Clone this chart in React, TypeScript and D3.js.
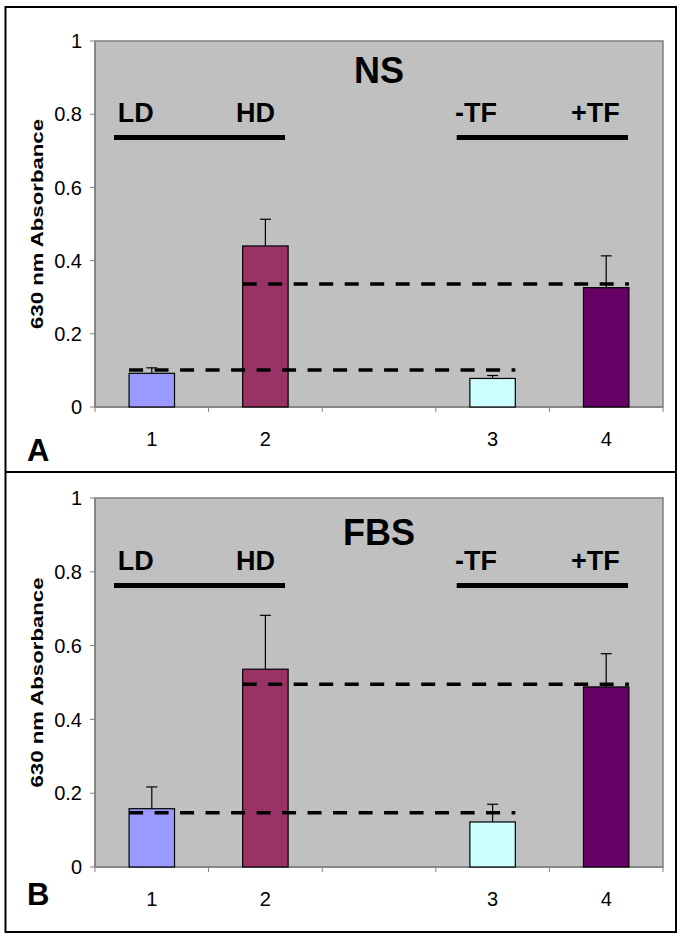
import React from "react";
import * as d3 from "d3";

const slotIds = ["c1", "c2", "gap", "c3", "c4"];
const slotLabels = ["1", "2", "", "3", "4"];
const barColors = ["#9999FF", "#993366", "none", "#CCFFFF", "#660066"];
const yTicks = [0, 0.2, 0.4, 0.6, 0.8, 1];

const nsValues = [0.092, 0.44, null, 0.078, 0.326];
const nsErrors = [0.015, 0.073, null, 0.008, 0.087];
const nsRefLow = 0.101;
const nsRefHigh = 0.336;

const fbsValues = [0.158, 0.536, null, 0.122, 0.488];
const fbsErrors = [0.059, 0.146, null, 0.048, 0.09];
const fbsRefLow = 0.147;
const fbsRefHigh = 0.495;

const FONT = "'Liberation Sans', Arial, Helvetica, sans-serif";

type PanelProps = {
  top: number;
  bottom: number;
  title: string;
  titleY: number;
  annShift: number;
  values: (number | null)[];
  errors: (number | null)[];
  refLow: number;
  refHigh: number;
  letter: string;
  letterY: number;
};

function Panel(p: PanelProps) {
  const left = 95;
  const right = 663;
  const x = d3.scaleBand<string>().domain(slotIds).range([left, right]).paddingInner(0.6).paddingOuter(0.3);
  const slot = d3.scaleLinear().domain([0, 5]).range([left, right]);
  const y = d3.scaleLinear().domain([0, 1]).range([p.bottom, p.top]);
  const bw = x.bandwidth();
  const cx = (i: number) => (x(slotIds[i]) as number) + bw / 2;
  const annLineY = y(0.736) - p.annShift;
  const annTextY = y(0.779) - p.annShift;

  return (
    <g>
      <rect x={left} y={p.top} width={right - left} height={p.bottom - p.top} fill="#C0C0C0" stroke="#808080" strokeWidth={1.5} />
      <line x1={left} x2={left} y1={p.top} y2={p.bottom} stroke="#808080" strokeWidth={1.5} />
      {yTicks.map((t) => (
        <g key={t}>
          <line x1={left - 5} x2={left} y1={y(t)} y2={y(t)} stroke="#808080" strokeWidth={1} />
          <text x={82} y={y(t)} dy="0.36em" textAnchor="end" fontSize={20} fontFamily={FONT} fill="#000">
            {String(t)}
          </text>
        </g>
      ))}
      <line x1={left} x2={right} y1={p.bottom} y2={p.bottom} stroke="#808080" strokeWidth={1.5} />
      {d3.range(0, 6).map((i) => (
        <line key={i} x1={slot(i)} x2={slot(i)} y1={p.bottom} y2={p.bottom + 5} stroke="#808080" strokeWidth={1} />
      ))}
      {slotLabels.map((l, i) => (
        <text key={i} x={(x(slotIds[i]) as number) + bw / 2} y={p.bottom + 39} textAnchor="middle" fontSize={20} fontFamily={FONT} fill="#000">
          {l}
        </text>
      ))}
      {p.values.map((v, i) =>
        v == null ? null : (
          <rect key={i} x={x(slotIds[i])} y={y(v)} width={bw} height={y(0) - y(v)} fill={barColors[i]} stroke="#000" strokeWidth={1.2} />
        )
      )}
      {p.values.map((v, i) => {
        const e = p.errors[i];
        if (v == null || e == null) return null;
        return (
          <g key={i} stroke="#000" strokeWidth={1.2}>
            <line x1={cx(i)} x2={cx(i)} y1={y(v)} y2={y(v + e)} />
            <line x1={cx(i) - 5.5} x2={cx(i) + 5.5} y1={y(v + e)} y2={y(v + e)} />
          </g>
        );
      })}
      <line x1={x("c1")} x2={(x("c3") as number) + bw} y1={y(p.refLow)} y2={y(p.refLow)} stroke="#000" strokeWidth={3.5} strokeDasharray="14 11.5" />
      <line x1={x("c2")} x2={(x("c4") as number) + bw} y1={y(p.refHigh)} y2={y(p.refHigh)} stroke="#000" strokeWidth={3.5} strokeDasharray="14 11.5" />
      <text x={(left + right) / 2} y={p.titleY} textAnchor="middle" fontSize={36} fontWeight="bold" fontFamily={FONT} fill="#000">
        {p.title}
      </text>
      <text x={slot(0.2)} y={annTextY} fontSize={27} fontWeight="bold" fontFamily={FONT} fill="#000">LD</text>
      <text x={slot(1.585)} y={annTextY} textAnchor="end" fontSize={27} fontWeight="bold" fontFamily={FONT} fill="#000">HD</text>
      <text x={slot(3.169)} y={annTextY} fontSize={27} fontWeight="bold" fontFamily={FONT} fill="#000">-TF</text>
      <text x={slot(4.62)} y={annTextY} textAnchor="end" fontSize={27} fontWeight="bold" fontFamily={FONT} fill="#000">+TF</text>
      <line x1={slot(0.167)} x2={slot(1.673)} y1={annLineY} y2={annLineY} stroke="#000" strokeWidth={5} />
      <line x1={slot(3.184)} x2={slot(4.692)} y1={annLineY} y2={annLineY} stroke="#000" strokeWidth={5} />
      <text
        transform={`translate(43, ${(p.top + p.bottom) / 2}) rotate(-90)`}
        textAnchor="middle"
        fontSize={17}
        fontWeight="bold"
        fontFamily={FONT}
        fill="#000"
        textLength={210}
        lengthAdjust="spacingAndGlyphs"
      >
        630 nm Absorbance
      </text>
      <text x={27} y={p.letterY} fontSize={31} fontWeight="bold" fontFamily={FONT} fill="#000">
        {p.letter}
      </text>
    </g>
  );
}

export default function App() {
  return (
    <svg width={685} height={941} style={{ position: "absolute", left: 0, top: 0, background: "#fff" }}>
      <rect x={0} y={0} width={685} height={941} fill="#fff" />
      <rect x={5.5} y={7} width={670.5} height={925} fill="none" stroke="#000" strokeWidth={2} />
      <line x1={5.5} x2={676} y1={472} y2={472} stroke="#000" strokeWidth={2} />
      <Panel top={41} bottom={407} title="NS" titleY={83} annShift={0} values={nsValues} errors={nsErrors} refLow={nsRefLow} refHigh={nsRefHigh} letter="A" letterY={461} />
      <Panel top={498} bottom={867} title="FBS" titleY={545} annShift={10} values={fbsValues} errors={fbsErrors} refLow={fbsRefLow} refHigh={fbsRefHigh} letter="B" letterY={905} />
    </svg>
  );
}
